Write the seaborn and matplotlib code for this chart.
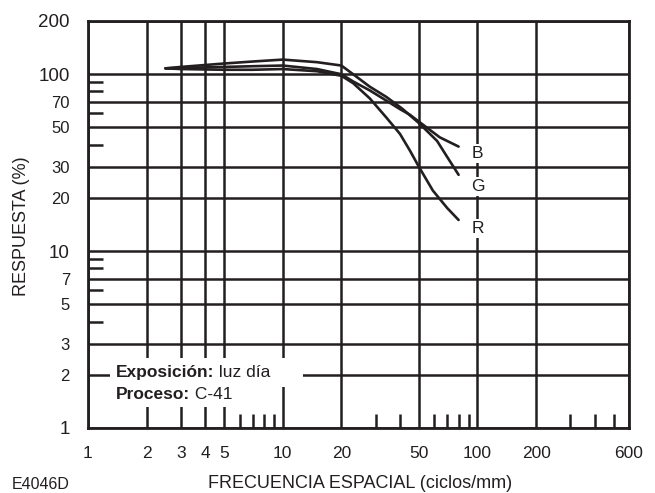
import matplotlib
matplotlib.use("Agg")
import matplotlib.pyplot as plt
import numpy as np
import pandas as pd
import seaborn as sns
from matplotlib.ticker import FixedLocator, FixedFormatter, NullFormatter
from matplotlib.patches import Rectangle

# ---- data ----
freq_B = [2.5, 3, 5, 7, 10, 15, 20, 23, 28, 34, 40, 45, 50, 64, 80]
resp_B = [108, 108.5, 110, 111, 112, 107, 100, 91, 81, 71, 63.5, 59, 54, 44, 39]

freq_G = [2.5, 3, 5, 7, 10, 15, 20, 23, 28, 34, 41, 50, 62, 70, 80]
resp_G = [108, 110, 115, 118, 121, 117, 112, 100, 85, 74.5, 64, 53, 42, 34, 27]

freq_R = [2.5, 3, 5, 7, 10, 15, 20, 23, 28, 34, 40, 45, 50, 59, 70, 80]
resp_R = [108, 107, 106, 106, 107, 104, 98, 89, 73, 57, 46, 37, 30, 22, 17.5, 15]

channels = ["B", "G", "R"]
label_y = [36.5, 23.6, 13.7]
label_x = 100

x_ticks = [1, 2, 3, 4, 5, 10, 20, 50, 100, 200, 600]
x_minor = [6, 7, 8, 9, 30, 40, 60, 70, 80, 90, 300, 400, 500]
y_ticks = [1, 2, 3, 5, 7, 10, 20, 30, 50, 70, 100, 200]
y_big = [1, 10, 100, 200]
y_minor = [4, 6, 8, 9, 40, 60, 80, 90]

x_title = "FRECUENCIA ESPACIAL (ciclos/mm)"
y_title = "RESPUESTA (%)"
code_text = "E4046D"
box_bold = ["Exposición:", "Proceso:"]
box_reg = [" luz día", " C-41"]

# ---- style ----
sns.set_theme(style="white")
plt.rcParams["font.family"] = ["Liberation Sans", "DejaVu Sans"]
INK = "#231f20"

W, H = 655, 493
fig = plt.figure(figsize=(W / 100, H / 100), dpi=100)
L, R_, T, B_ = 88, 629, 21, 428
ax = fig.add_axes([L / W, (H - B_) / H, (R_ - L) / W, (B_ - T) / H])

df = pd.concat([
    pd.DataFrame({"freq": freq_B, "resp": resp_B, "canal": "B"}),
    pd.DataFrame({"freq": freq_G, "resp": resp_G, "canal": "G"}),
    pd.DataFrame({"freq": freq_R, "resp": resp_R, "canal": "R"}),
])
sns.lineplot(data=df, x="freq", y="resp", hue="canal", units="canal",
             estimator=None, sort=False, palette={c: INK for c in channels},
             legend=False, ax=ax, linewidth=1.9, zorder=4)

ax.set_xscale("log")
ax.set_yscale("log")
ax.set_xlim(1, 600)
ax.set_ylim(1, 200)

ax.xaxis.set_major_locator(FixedLocator(x_ticks))
ax.xaxis.set_major_formatter(FixedFormatter([str(v) for v in x_ticks]))
ax.xaxis.set_minor_locator(FixedLocator(x_minor))
ax.xaxis.set_minor_formatter(NullFormatter())
ax.yaxis.set_major_locator(FixedLocator(y_ticks))
ax.yaxis.set_major_formatter(FixedFormatter([str(v) for v in y_ticks]))
ax.yaxis.set_minor_locator(FixedLocator(y_minor))
ax.yaxis.set_minor_formatter(NullFormatter())

ax.tick_params(which="major", length=0, pad=13, labelsize=12.5, labelcolor=INK)
ax.tick_params(which="minor", direction="in", length=10.5, width=1.8, color=INK,
               bottom=True, left=True, top=False, right=False)
ax.tick_params(axis="x", which="minor", length=10)
ax.grid(which="major", color=INK, linewidth=1.8)
ax.grid(which="minor", visible=False)
for sp in ax.spines.values():
    sp.set_color(INK)
    sp.set_linewidth(2)

for tk, v in zip(ax.yaxis.get_major_ticks(), y_ticks):
    tk.label1.set_fontsize(13.5 if v in y_big else 12)

ax.set_xlabel("")
ax.set_ylabel("")

# white boxes behind the notes
def px_rect(x0, y0, x1, y1):
    fx0 = (x0 - L) / (R_ - L)
    fx1 = (x1 - L) / (R_ - L)
    fy0 = (B_ - y1) / (B_ - T)
    fy1 = (B_ - y0) / (B_ - T)
    ax.add_patch(Rectangle((fx0, fy0), fx1 - fx0, fy1 - fy0, transform=ax.transAxes,
                           facecolor="white", edgecolor="none", zorder=3))

px_rect(110, 358, 303, 387)
px_rect(110, 387, 262, 407)

for i, yb in enumerate([377, 399]):
    t = ax.text((116 - L) / (R_ - L), (B_ - yb) / (B_ - T), box_bold[i],
                transform=ax.transAxes, fontsize=12.5, fontweight="bold",
                color=INK, ha="left", va="baseline", zorder=5)
    ax.annotate(box_reg[i], xy=(1, 0), xycoords=t, ha="left", va="bottom",
                fontsize=12.5, color=INK, zorder=5)

for c, yv in zip(channels, label_y):
    ax.text(label_x, yv, c, ha="center", va="center_baseline", fontsize=12.5,
            color=INK, zorder=5,
            bbox=dict(facecolor="white", edgecolor="none", pad=1.5))

fig.text(360 / W, (H - 488) / H, x_title, ha="center", va="baseline",
         fontsize=13, color=INK)
fig.text(22 / W, (H - 226) / H, y_title, ha="center", va="center",
         rotation=90, fontsize=13, color=INK)
fig.text(12 / W, (H - 489) / H, code_text, ha="left", va="baseline",
         fontsize=11.5, color=INK)

fig.savefig("out.png", dpi=100)
